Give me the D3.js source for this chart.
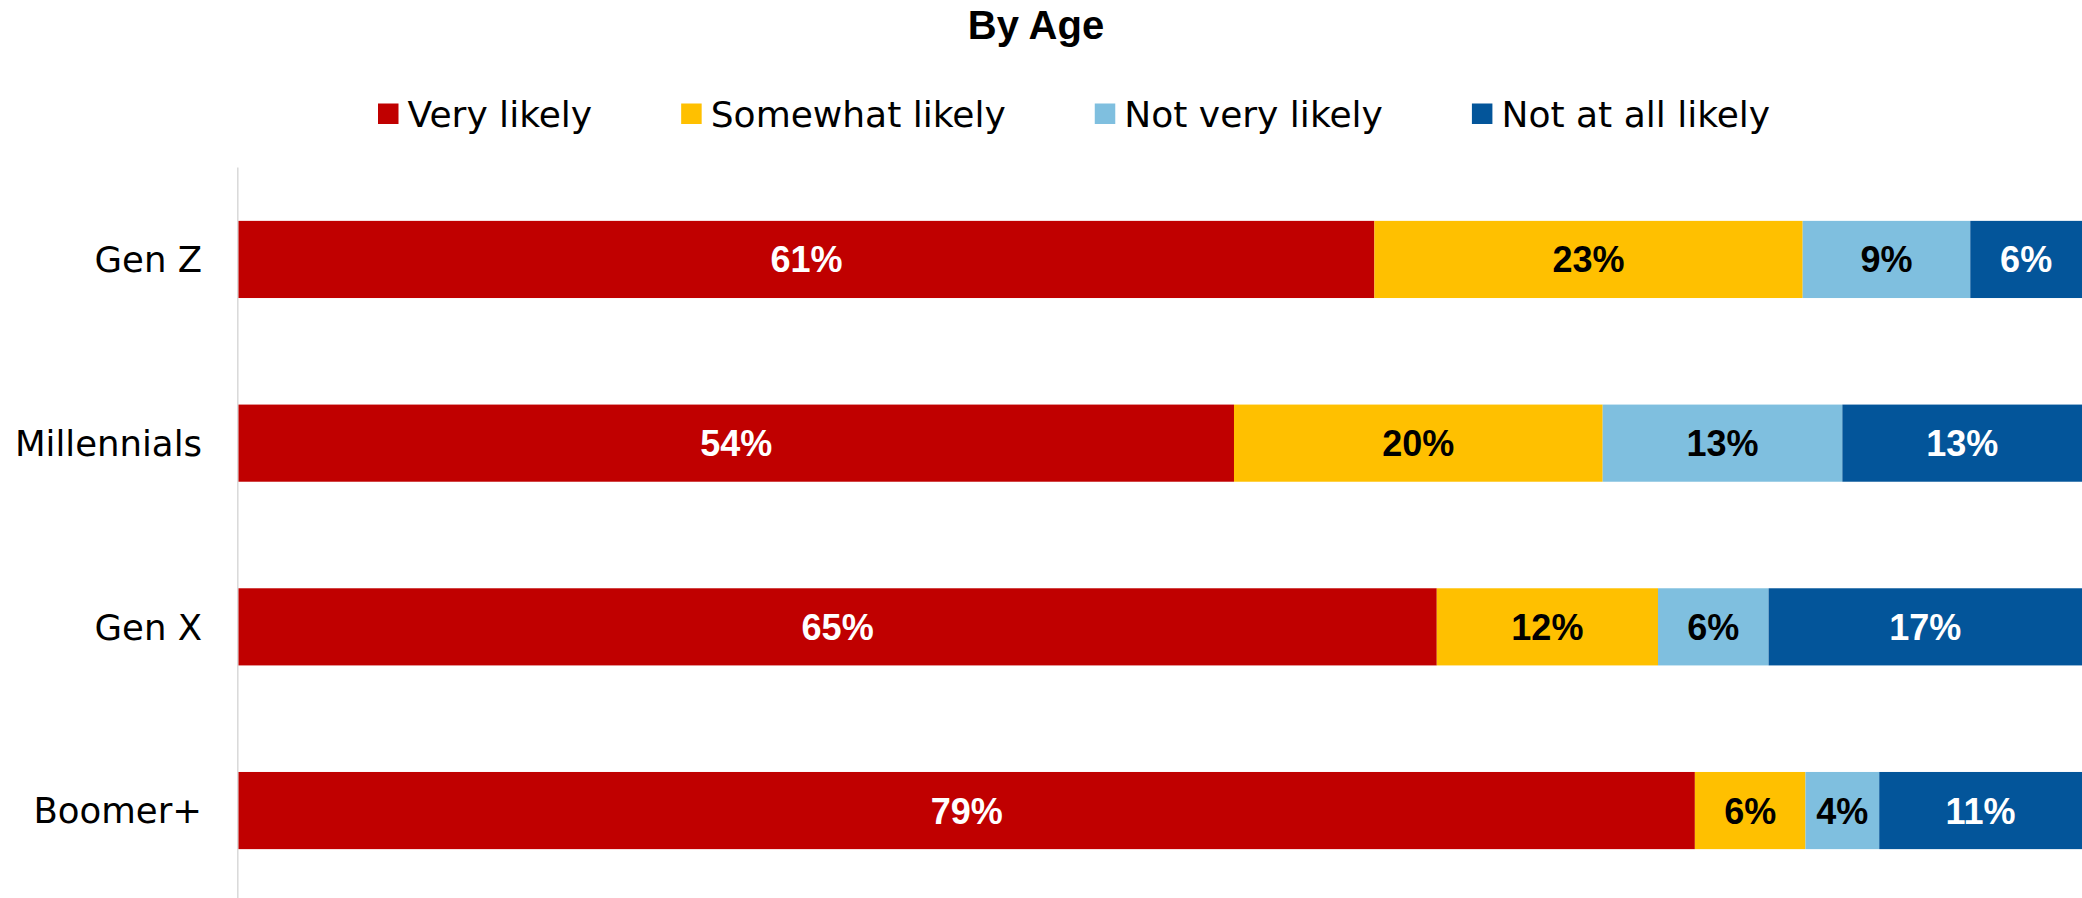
<!doctype html>
<html>
  <head>
    <script src="https://cdn.jsdelivr.net/npm/d3@7/dist/d3.min.js"></script>
    <style>
    body { margin: 0; background: #fff; }
    svg { display: block; font-family: "Liberation Sans", Arial, sans-serif; }
    .title { font-size: 40px; font-weight: bold; }
    .legend text { font-family: "DejaVu Sans", sans-serif; font-size: 36px; }
    .cat { font-family: "DejaVu Sans", sans-serif; font-size: 35.5px; }
    .val { font-size: 36px; font-weight: bold; }
    </style>
  </head>
  <body>
    <svg width="2082" height="898"></svg>
    <script>
      var categories = ["Gen Z", "Millennials", "Gen X", "Boomer+"];
      var seriesNames = ["Very likely", "Somewhat likely", "Not very likely", "Not at all likely"];
      var veryLikely = [61, 54, 65, 79];
      var somewhatLikely = [23, 20, 12, 6];
      var notVeryLikely = [9, 13, 6, 4];
      var notAtAllLikely = [6, 13, 17, 11];
      var seriesColors = ["#C00000", "#FFC000", "#7FBFDF", "#03559A"];
      var labelColors = ["#fff", "#000", "#000", "#fff"];

      var svg = d3.select("svg");

      var rows = categories.map((c, i) => ({
        cat: c,
        "Very likely": veryLikely[i],
        "Somewhat likely": somewhatLikely[i],
        "Not very likely": notVeryLikely[i],
        "Not at all likely": notAtAllLikely[i]
      }));

      // 100% stacked, like the original
      var stacked = d3.stack()
        .keys(seriesNames)
        .offset(d3.stackOffsetExpand)(rows);

      var x = d3.scaleLinear().domain([0, 1]).range([238.5, 2082]);
      var y = d3.scaleBand()
        .domain(categories)
        .range([167.6, 902.4])
        .paddingInner(0.58)
        .paddingOuter(0.29);
      var color = d3.scaleOrdinal().domain(seriesNames).range(seriesColors);

      svg.append("text")
        .attr("class", "title")
        .attr("x", 1036)
        .attr("y", 39)
        .attr("text-anchor", "middle")
        .text("By Age");

      // legend, laid out left to right
      var legend = svg.append("g").attr("class", "legend");
      var lx = 378;
      seriesNames.forEach((s, i) => {
        var g = legend.append("g").attr("transform", `translate(${lx},0)`);
        g.append("rect")
          .attr("x", 0).attr("y", 103.5)
          .attr("width", 20.5).attr("height", 20.5)
          .attr("fill", color(s));
        var t = g.append("text")
          .attr("x", 29.6).attr("y", 126.5)
          .text(s);
        lx += 29.6 + t.node().getComputedTextLength() + 89;
      });

      // vertical category axis line
      svg.append("line")
        .attr("x1", 237.8).attr("x2", 237.8)
        .attr("y1", y.range()[0]).attr("y2", 898)
        .attr("stroke", "#d9d9d9")
        .attr("stroke-width", 1.5);

      var layer = svg.selectAll("g.layer")
        .data(stacked)
        .enter()
        .append("g")
          .attr("class", "layer")
          .attr("fill", d => color(d.key));

      layer.selectAll("rect")
        .data(d => d)
        .enter()
        .append("rect")
          .attr("x", d => x(d[0]))
          .attr("y", d => y(d.data.cat))
          .attr("width", d => x(d[1]) - x(d[0]))
          .attr("height", y.bandwidth());

      layer.each(function(s, si) {
        d3.select(this).selectAll("text")
          .data(s)
          .enter()
          .append("text")
            .attr("class", "val")
            .attr("x", d => (x(d[0]) + x(d[1])) / 2)
            .attr("y", d => y(d.data.cat) + y.bandwidth() / 2)
            .attr("dy", "0.36em")
            .attr("text-anchor", "middle")
            .attr("fill", labelColors[si])
            .text(d => d.data[s.key] + "%");
      });

      svg.selectAll("text.cat")
        .data(categories)
        .enter()
        .append("text")
          .attr("class", "cat")
          .attr("x", 202)
          .attr("y", d => y(d) + y.bandwidth() / 2)
          .attr("dy", "0.36em")
          .attr("text-anchor", "end")
          .text(d => d);
    </script>
  </body>
</html>
